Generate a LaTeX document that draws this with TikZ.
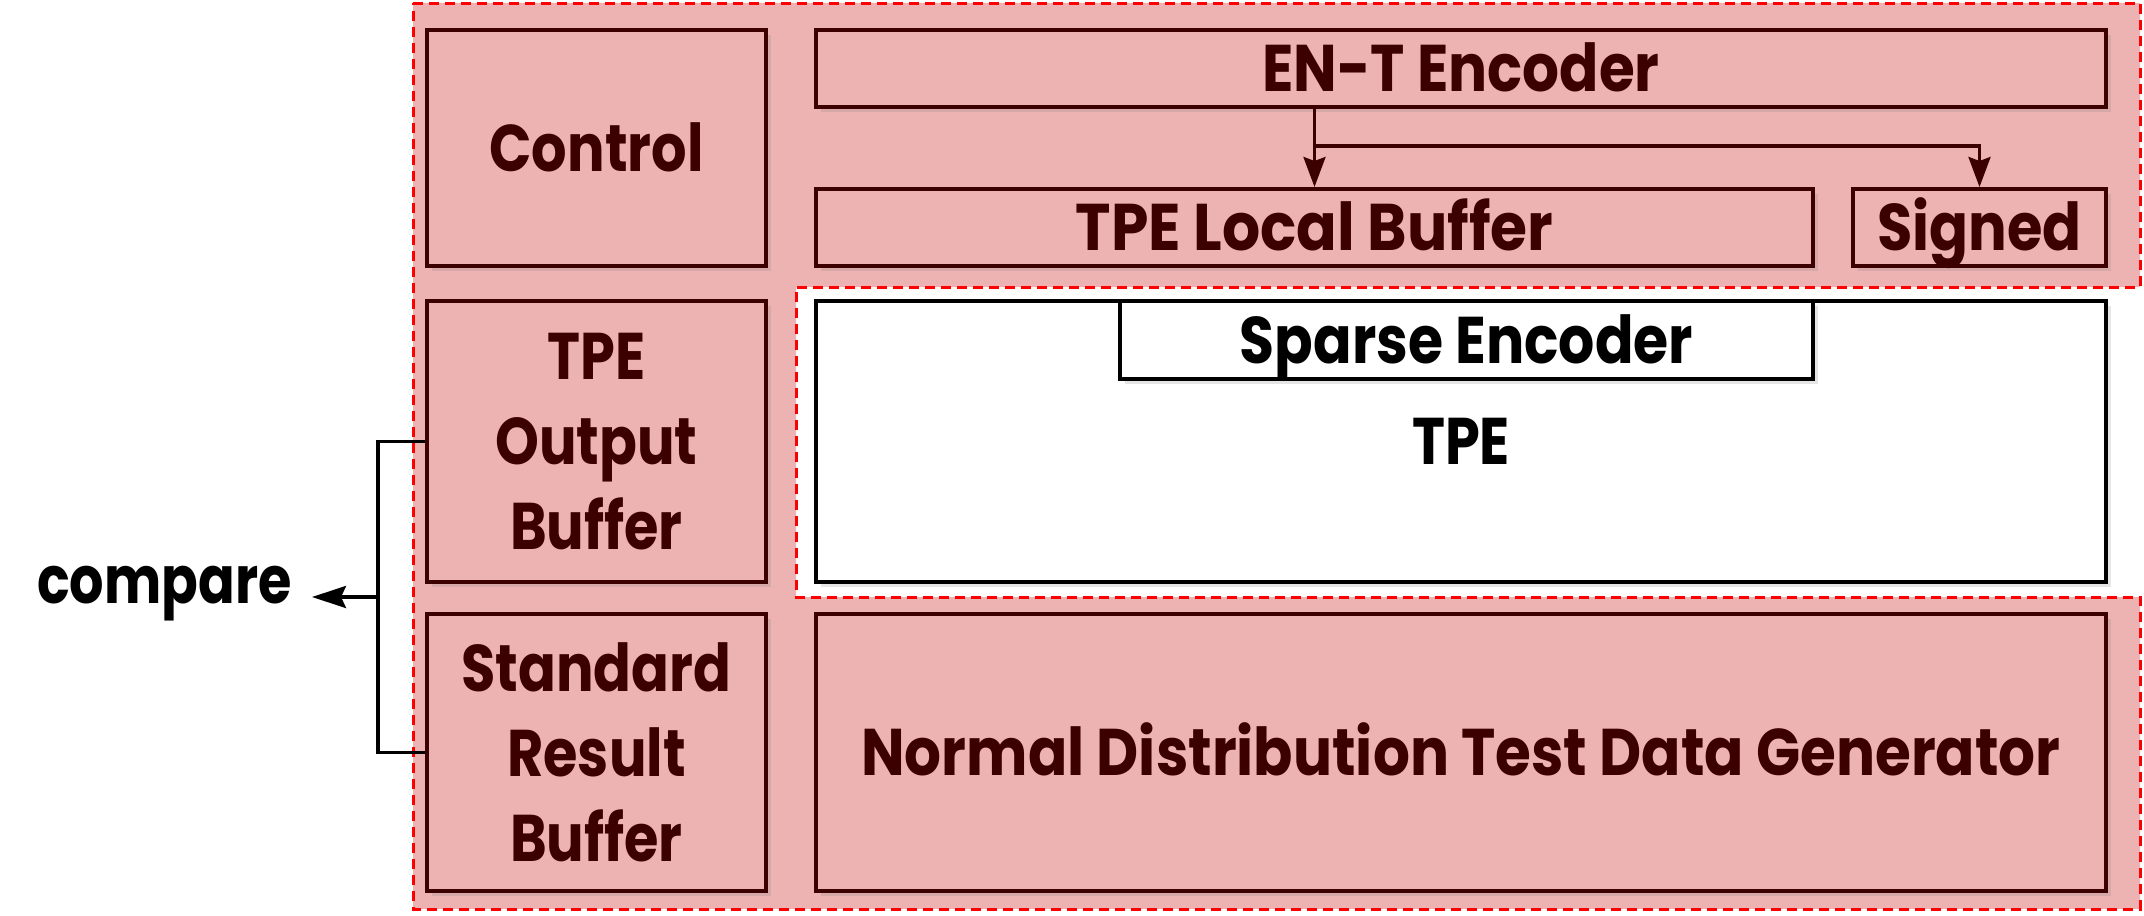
\documentclass[tikz,border=0pt]{standalone}
\usepackage{fontspec}
\setmainfont{Poppins}[FakeStretch=0.845]
\usetikzlibrary{arrows.meta,shadows,calc}
\definecolor{pinkf}{RGB}{237,179,179}
\definecolor{maroonc}{RGB}{60,0,0}
\definecolor{redd}{RGB}{255,0,0}
\newcommand{\hs}[2]{\scalebox{#1}[1]{#2}}
\begin{document}
\begin{tikzpicture}[x=0.5pt,y=-0.5pt,
  font=\fontsize{33}{42.5}\selectfont\bfseries,
  shad/.style={drop shadow={shadow xshift=2.5pt, shadow yshift=-2.5pt, opacity=0.2}},
  pbox/.style={draw=maroonc, fill=pinkf, line width=2pt, text=maroonc, align=center, inner sep=0pt, shad},
  wbox/.style={draw=black, fill=white, line width=2pt, text=black, align=center, inner sep=0pt, shad},
  oneline/.style={text height=24pt, text depth=0.75pt},
  region/.style={draw=redd, dash pattern=on 5pt off 3pt, line width=1.5pt},
  marr/.style={draw=maroonc, line width=1.7pt, -{Stealth[length=15pt,width=11pt,inset=2pt]}},
  carr/.style={draw=black, line width=1.7pt, -{Stealth[length=17pt,width=11pt,inset=2.5pt]}},
  cline/.style={draw=black, line width=1.7pt}
]
\useasboundingbox (0,0) rectangle (2144,916);
% regions
\fill[pinkf] (413,3) -- (2140,3) -- (2140,287) -- (796,287) -- (796,597) -- (2140,597) -- (2140,909) -- (413,909) -- cycle;
\draw[region] (413,3) -- (2140,3) -- (2140,287) -- (796,287) -- (796,597) -- (2140,597) -- (2140,909) -- (413,909) -- cycle;
% boxes
\node[pbox, oneline, minimum width=169.5pt, minimum height=118pt] (ctrl) at (596.5,148) {Control};
\node[pbox, oneline, minimum width=645pt, minimum height=38.5pt] (ent) at (1461,68.5) {\hs{1.04}{EN-T Encoder}};
\node[pbox, oneline, minimum width=498.5pt, minimum height=38.5pt] (lb) at (1314.5,227.5) {\hs{1.075}{TPE Local Buffer}};
\node[pbox, oneline, minimum width=126.5pt, minimum height=38.5pt] (sg) at (1979.5,227.5) {\hs{1.03}{Signed}};
\node[pbox, minimum width=169.5pt, minimum height=140.5pt] (tob) at (596.5,441.5) {TPE\\Output\\Buffer};
\node[pbox, minimum width=169.5pt, minimum height=138.5pt] (srb) at (596.5,752.5) {Standard\\Result\\Buffer};
\node[wbox, oneline, minimum width=645pt, minimum height=140.5pt] (tpe) at (1461,441.5) {TPE};
\node[wbox, oneline, minimum width=346.5pt, minimum height=39pt] (se) at (1466.5,340) {\hs{1.02}{Sparse Encoder}};
\node[pbox, oneline, minimum width=645pt, minimum height=138.5pt] (ndg) at (1461,752.5) {\hs{1.04}{Normal Distribution Test Data Generator}};
% arrows from encoder
\coordinate (br) at (1314.5,146);
\draw[marr] (lb.north |- ent.south) -- (lb.north);
\draw[marr] (br) -| (sg.north);
% compare
\node[inner sep=0pt, anchor=base east, text=black] (cmp) at (292,603) {\hs{0.97}{compare}};
\draw[cline] (tob.west) -- ++(-47,0) coordinate (c1) |- (srb.west);
\coordinate (cm) at ($(c1)!0.5!(c1 |- srb.west)$);
\draw[carr] (cm) -- ([xshift=10pt]cmp.east |- cm);
\end{tikzpicture}
\end{document}
